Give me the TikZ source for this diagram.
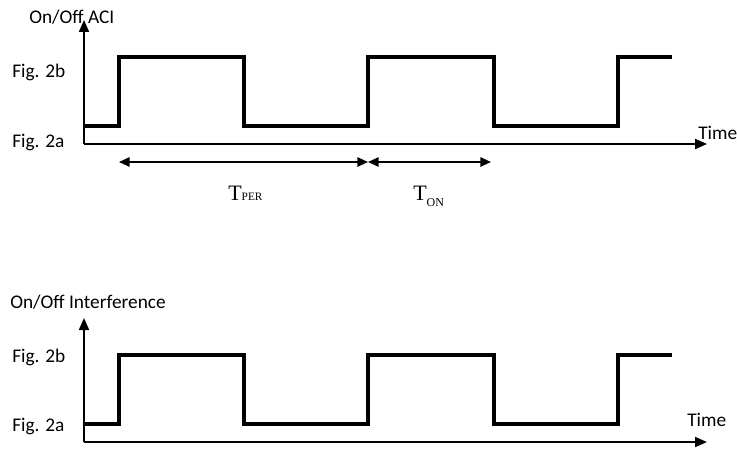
\documentclass[tikz,border=0pt]{standalone}
\usepackage{fontspec}
\setmainfont{Carlito}
\newfontfamily\timesfont{Liberation Serif}
\usetikzlibrary{arrows.meta,positioning}
\tikzset{
	axis/.style={line width=1.4pt,-{Triangle[length=9pt,width=7.5pt]}},
	wave/.style={line width=2.4pt,line join=miter},
	span/.style={line width=1.4pt,{Triangle[length=8pt,width=7pt]}-{Triangle[length=8pt,width=7pt]}},
	lbl/.style={inner sep=0pt,font=\fontsize{14.5}{16}\selectfont},
	per/.style={inner sep=0pt,font=\timesfont\fontsize{16.5}{18}\selectfont}
}

\begin{document}
\begin{tikzpicture}[x=0.75pt,y=-0.75pt]
	\useasboundingbox (0,0) rectangle (737,449);
	% axes and waveform of both panels
	\foreach \dy/\n in {0/1,298/2}{
		\coordinate (o\n) at (84,144+\dy);
		\coordinate (ytop\n) at (84,20+\dy);
		\coordinate (tend\n) at (707,144+\dy);
		\draw[axis] (o\n) -- (ytop\n);
		\draw[axis] (o\n) -- (tend\n);
		\draw[wave] (84,126+\dy) -| (119,57+\dy) -| (244,126+\dy) -| (368,57+\dy)
			-| (494,126+\dy) -| (618,57+\dy) -- (672,57+\dy);
	}
	% labels
	\node[lbl, anchor=west] (ylab1) at (29,17) {On/Off ACI};
	\node[lbl, anchor=west] (ylab2) at (10,302) {On/Off Interference};
	\node[lbl, anchor=west] (hi1) at (12,72) {Fig. 2b};
	\node[lbl, anchor=west] (lo1) at (12,143) {Fig. 2a};
	\node[lbl, anchor=west] (hi2) at (12,357) {Fig. 2b};
	\node[lbl, anchor=west] (lo2) at (12,427) {Fig. 2a};
	\node[lbl, anchor=west] (time1) at (698,133) {Time};
	\node[lbl, anchor=west] (time2) at (687,420) {Time};
	% period and on-time
	\coordinate (ps) at (119,162);
	\coordinate (pe) at (368,162);
	\coordinate (oe) at (491,162);
	\draw[span] (ps) -- (pe);
	\draw[span] (pe) -- (oe);
	\node[per, anchor=base west] (tper) at (228,200) {T{\fontsize{8.5}{9}\selectfont PER}};
	\node[per, anchor=base west] (ton) at (413,200) {T\raisebox{-4.5pt}{\fontsize{9}{9}\selectfont ON}};
\end{tikzpicture}
\end{document}
